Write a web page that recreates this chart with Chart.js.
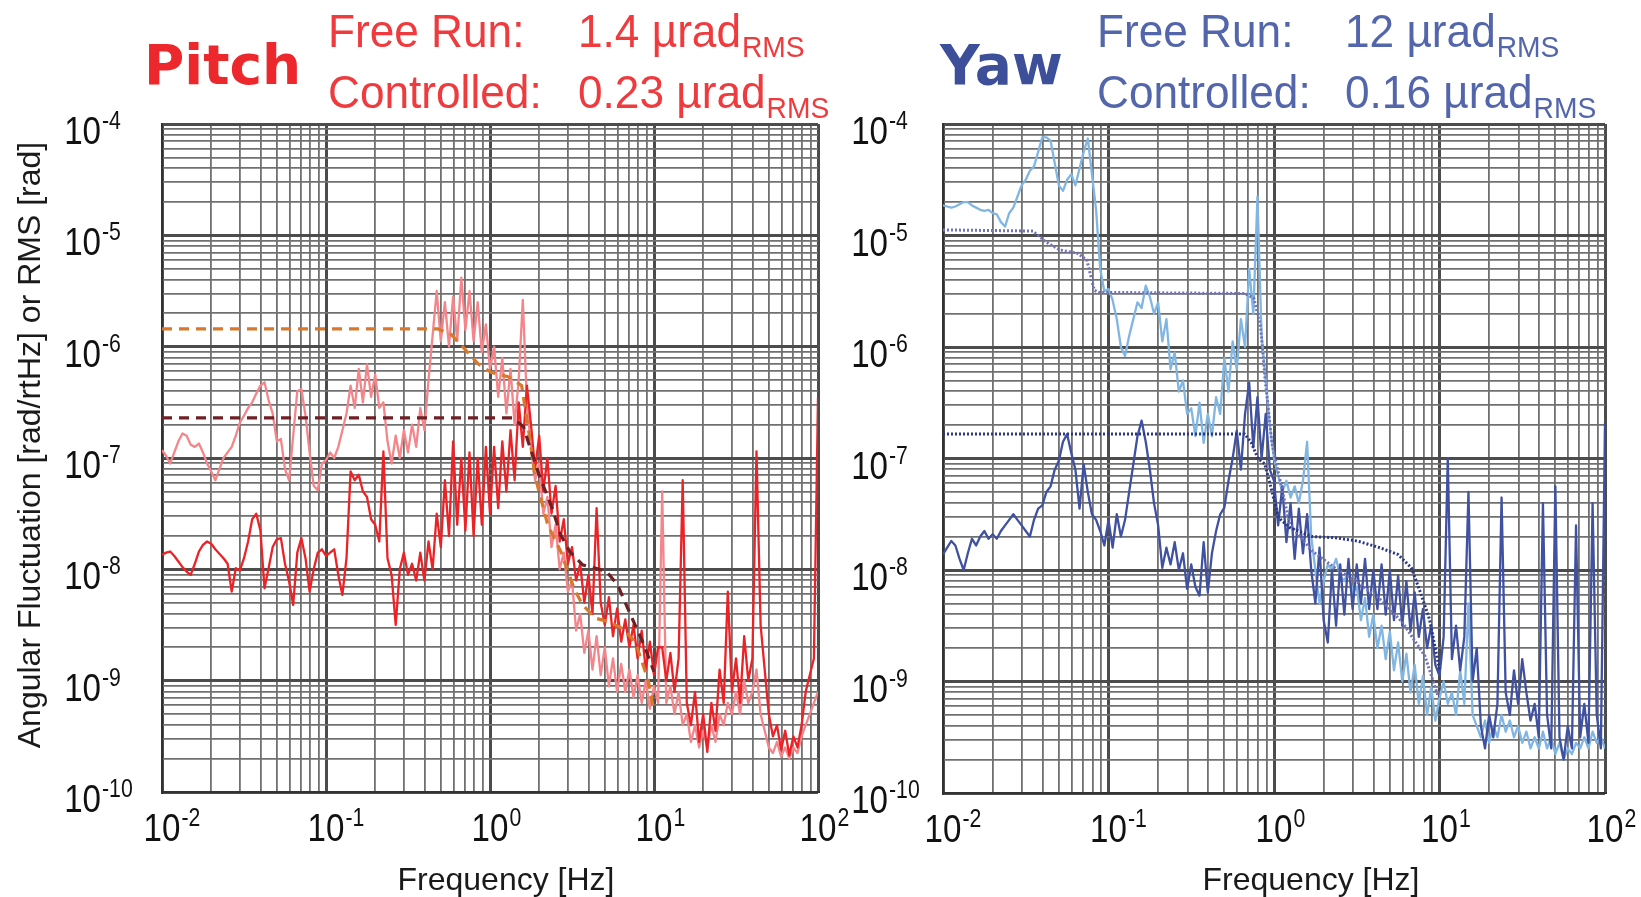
<!DOCTYPE html>
<html>
<head>
<meta charset="utf-8">
<title>Pitch / Yaw angular fluctuation</title>
<script src="https://cdn.jsdelivr.net/npm/chart.js@4.4.1/dist/chart.umd.min.js"></script>
<style>
  html, body { margin: 0; padding: 0; background: #fff; }
  #wrap { position: relative; width: 1641px; height: 897px; overflow: hidden; }
  #pitchBox { position: absolute; left: 0; top: 0; width: 860px; height: 897px; }
  #yawBox { position: absolute; left: 845px; top: 0; width: 796px; height: 897px; }
</style>
</head>
<body>
<div id="wrap">
  <div id="pitchBox"><canvas id="pitchChart"></canvas></div>
  <div id="yawBox"><canvas id="yawChart"></canvas></div>
</div>
<script>
// analyser bins, 40 per decade from 0.01 Hz to 100 Hz
const freqBins = Array.from({length: 161}, (_, i) => 10 ** (-2 + i / 40));

const pitchFreeLog = [
  -6.93,-6.98,-7.05,-6.95,-6.85,-6.78,-6.80,-6.88,-6.90,-6.87,
  -6.95,-7.05,-7.12,-7.20,-7.10,-7.00,-6.95,-6.90,-6.80,-6.68,
  -6.62,-6.55,-6.50,-6.42,-6.35,-6.32,-6.48,-6.60,-6.85,-6.83,
  -7.10,-7.20,-6.80,-6.40,-6.38,-6.62,-6.95,-7.25,-7.29,-7.05,
  -7.02,-6.95,-7.00,-6.90,-6.75,-6.60,-6.35,-6.55,-6.20,-6.50,
  -6.16,-6.45,-6.25,-6.55,-6.50,-6.85,-7.05,-6.80,-7.00,-6.75,
  -6.95,-6.70,-6.90,-6.55,-6.75,-6.30,-5.90,-5.50,-5.95,-5.60,
  -6.00,-5.55,-5.95,-5.38,-5.85,-5.50,-5.95,-5.60,-6.05,-5.80,
  -6.20,-6.00,-6.45,-6.10,-6.60,-6.20,-6.70,-6.30,-5.58,-6.50,
  -6.90,-7.20,-7.05,-7.50,-7.35,-7.80,-7.60,-8.00,-7.85,-8.20,
  -8.10,-8.55,-8.40,-8.75,-8.55,-8.90,-8.60,-8.95,-8.70,-9.05,
  -8.80,-9.10,-8.85,-9.10,-8.90,-9.15,-8.95,-9.20,-9.00,-9.25,
  -9.05,-9.20,-7.30,-9.20,-9.05,-9.30,-9.10,-9.40,-9.30,-9.55,
  -9.40,-9.60,-9.45,-9.60,-9.40,-9.55,-9.30,-9.40,-9.20,-9.30,
  -9.10,-9.30,-9.00,-9.20,-9.10,-8.90,-9.30,-9.45,-9.60,-9.65,
  -9.55,-9.68,-9.60,-9.70,-9.60,-9.65,-9.50,-9.40,-9.30,-9.20,
  -9.10
];
const pitchCtrlLog = [
  -7.87,-7.85,-7.84,-7.88,-7.93,-7.98,-8.02,-8.05,-7.95,-7.84,
  -7.78,-7.75,-7.77,-7.82,-7.86,-7.90,-7.95,-8.20,-7.99,-8.01,
  -7.90,-7.75,-7.55,-7.50,-7.65,-8.17,-7.99,-7.80,-7.73,-7.72,
  -7.95,-8.11,-8.32,-7.85,-7.72,-7.90,-8.20,-8.00,-7.85,-7.82,
  -7.88,-7.85,-7.82,-8.05,-8.23,-7.90,-7.12,-7.20,-7.15,-7.30,
  -7.35,-7.55,-7.60,-7.75,-6.94,-7.90,-8.05,-8.50,-8.00,-7.85,
  -8.05,-7.95,-8.10,-7.85,-8.10,-7.75,-8.00,-7.50,-7.80,-7.20,
  -7.70,-6.85,-7.60,-7.00,-7.65,-6.95,-7.70,-7.00,-7.60,-6.90,
  -7.50,-6.90,-7.45,-6.85,-7.30,-6.75,-7.20,-6.50,-6.90,-6.35,
  -6.70,-7.10,-6.80,-7.30,-7.00,-7.50,-7.25,-7.75,-7.55,-7.95,
  -7.80,-8.10,-7.95,-8.30,-8.05,-8.40,-7.45,-8.30,-8.50,-8.25,
  -8.60,-8.35,-8.65,-8.45,-8.70,-8.50,-8.80,-8.55,-8.90,-8.65,
  -8.95,-8.70,-8.70,-9.00,-8.75,-9.10,-8.80,-7.20,-9.20,-9.40,
  -9.10,-9.55,-9.30,-9.64,-9.20,-9.45,-8.90,-9.20,-8.20,-9.10,
  -8.80,-9.20,-8.60,-9.00,-8.80,-6.94,-8.50,-8.90,-9.30,-9.50,
  -9.40,-9.62,-9.45,-9.67,-9.50,-9.60,-9.40,-9.10,-8.95,-8.80,
  -6.46
];
const pitchFreeRmsFreq = [0.01, 0.48, 0.58, 0.70, 0.84, 1.01, 1.29, 1.56, 1.76, 1.87, 2.25, 2.70, 3.25, 3.67, 4.42, 5.31, 6.39, 7.68, 9.23, 10];
const pitchFreeRmsLog = [-5.84, -5.84, -5.89, -6.02, -6.15, -6.23, -6.27, -6.35, -6.85, -7.15, -7.60, -7.84, -8.17, -8.32, -8.44, -8.47, -8.53, -8.65, -9.00, -9.28];
const pitchCtrlRmsFreq = [0.01, 1.38, 1.6, 1.76, 1.99, 2.39, 2.70, 3.06, 3.67, 4.42, 5.14, 6.0, 7.2, 8.7, 10];
const pitchCtrlRmsLog = [-6.64, -6.64, -6.72, -6.91, -7.15, -7.45, -7.69, -7.84, -7.96, -7.99, -8.02, -8.14, -8.41, -8.68, -8.92];

const yawFreeLog = [
  -4.73,-4.74,-4.75,-4.74,-4.72,-4.70,-4.70,-4.73,-4.75,-4.77,
  -4.78,-4.77,-4.80,-4.81,-4.88,-4.92,-4.80,-4.75,-4.65,-4.55,
  -4.50,-4.42,-4.38,-4.25,-4.12,-4.12,-4.15,-4.35,-4.55,-4.60,
  -4.50,-4.45,-4.55,-4.40,-4.25,-4.13,-4.45,-4.77,-5.30,-5.50,
  -5.48,-5.58,-5.75,-6.00,-6.08,-5.90,-5.75,-5.60,-5.65,-5.45,
  -5.55,-5.70,-5.60,-5.95,-5.75,-6.20,-6.05,-6.40,-6.30,-6.60,
  -6.55,-6.80,-6.50,-6.86,-6.60,-6.80,-6.45,-6.60,-6.10,-6.40,
  -5.95,-6.20,-5.75,-6.00,-5.30,-5.70,-4.65,-5.90,-6.30,-6.70,
  -7.00,-7.15,-7.30,-7.20,-7.35,-7.25,-7.40,-7.20,-6.85,-7.70,
  -8.00,-8.30,-8.10,-7.95,-8.00,-7.90,-8.05,-8.10,-8.00,-8.20,
  -8.15,-8.45,-8.25,-8.60,-8.40,-8.70,-8.50,-8.80,-8.55,-8.90,
  -8.65,-9.00,-8.75,-9.10,-8.85,-9.20,-8.95,-9.30,-9.05,-9.35,
  -9.15,-9.00,-9.20,-9.10,-9.30,-8.90,-9.20,-8.30,-9.30,-9.40,
  -9.50,-9.35,-9.55,-9.40,-9.50,-9.30,-9.45,-9.35,-9.50,-9.40,
  -9.55,-9.45,-9.60,-9.50,-9.60,-9.45,-9.60,-9.50,-9.65,-9.55,
  -9.70,-9.60,-9.65,-9.55,-9.60,-9.50,-9.60,-9.45,-9.55,-9.50,
  -9.60
];
const yawCtrlLog = [
  -7.86,-7.80,-7.74,-7.78,-7.90,-8.00,-7.85,-7.72,-7.78,-7.70,
  -7.65,-7.72,-7.68,-7.72,-7.65,-7.60,-7.55,-7.50,-7.55,-7.60,
  -7.65,-7.70,-7.55,-7.45,-7.42,-7.30,-7.25,-7.10,-7.02,-6.85,
  -6.78,-6.95,-7.10,-7.45,-7.05,-7.30,-7.50,-7.55,-7.65,-7.78,
  -7.55,-7.80,-7.50,-7.70,-7.55,-7.30,-7.05,-6.80,-6.66,-6.85,
  -7.10,-7.40,-7.60,-7.98,-7.80,-7.95,-7.75,-8.00,-7.85,-8.17,
  -7.95,-8.15,-8.23,-7.75,-8.20,-7.85,-7.65,-7.50,-7.44,-7.20,
  -7.00,-6.75,-7.10,-6.60,-6.32,-6.90,-6.45,-7.00,-6.60,-7.10,
  -7.20,-7.60,-7.25,-7.75,-7.40,-7.90,-7.45,-7.85,-7.50,-8.00,
  -8.30,-7.80,-8.45,-8.65,-8.00,-8.50,-7.95,-8.40,-7.90,-8.35,
  -7.95,-8.30,-7.90,-8.35,-8.00,-8.35,-7.95,-8.40,-8.00,-8.45,
  -8.05,-8.50,-8.10,-8.55,-8.20,-8.60,-8.35,-8.70,-8.50,-8.85,
  -8.95,-8.60,-7.00,-8.80,-8.50,-8.90,-8.60,-7.30,-9.00,-8.70,
  -9.40,-9.60,-9.30,-9.50,-9.20,-7.35,-9.10,-9.30,-8.90,-9.20,
  -8.80,-9.10,-9.35,-9.20,-9.50,-7.40,-9.30,-9.60,-7.25,-9.50,
  -9.70,-9.40,-9.60,-7.60,-9.50,-9.20,-9.55,-7.40,-9.30,-9.60,
  -6.68
];
const yawFreeRmsFreq = [0.01, 0.035, 0.042, 0.051, 0.065, 0.074, 0.082, 0.087, 0.665, 0.755, 0.83, 0.88, 0.97, 1.245, 1.70, 2.33, 3.19, 4.36, 5.97, 8.16, 9.84];
const yawFreeRmsLog = [-4.95, -4.96, -5.06, -5.13, -5.16, -5.22, -5.49, -5.51, -5.52, -5.56, -5.82, -6.26, -6.86, -7.59, -7.83, -7.98, -8.11, -8.26, -8.47, -8.77, -9.14];
const yawCtrlRmsFreq = [0.01, 0.665, 0.73, 0.80, 0.88, 0.97, 1.065, 1.245, 1.70, 2.33, 3.19, 4.36, 5.6, 6.76, 7.66, 8.69, 10];
const yawCtrlRmsLog = [-6.78, -6.78, -6.86, -7.00, -7.05, -7.29, -7.53, -7.62, -7.70, -7.71, -7.74, -7.80, -7.86, -7.98, -8.20, -8.44, -8.89];

const xDecades = [-2, -1, 0, 1, 2];
const yDecades = [-10, -9, -8, -7, -6, -5, -4];

const FONT = '"Liberation Sans", Arial, sans-serif';

function pts(freqs, logs) {
  return logs.map((v, i) => ({x: freqs[i], y: 10 ** v}));
}

// 1..9 x 10^e grid, like log graph paper
function logTicks(lo, hi) {
  const out = [];
  for (let e = lo; e < hi; e++) {
    for (let m = 1; m < 10; m++) out.push({value: m * 10 ** e});
  }
  out.push({value: 10 ** hi});
  return out;
}
function isDecade(v) {
  const l = Math.log10(v);
  return Math.abs(l - Math.round(l)) < 1e-6;
}

function squeezed(ctx, text, x, y, size, sx) {
  ctx.save();
  ctx.font = size + 'px ' + FONT;
  const w = ctx.measureText(text).width * sx;
  ctx.translate(x, y);
  ctx.scale(sx, 1);
  ctx.textAlign = 'left';
  ctx.fillText(text, 0, 0);
  ctx.restore();
  return w;
}
function power10(ctx, exp, x, y, align) {
  ctx.font = '39px ' + FONT;
  const w = ctx.measureText('10').width * 0.85;
  const left = align === 'center' ? x - w / 2 : x - w;
  squeezed(ctx, '10', left, y, 39, 0.85);
  squeezed(ctx, String(exp), left + w + 1, y - 15, 25, 0.85);
}

const panelText = {
  id: 'panelText',
  afterDraw(chart, args, o) {
    const {ctx, chartArea: a, scales: {x, y}} = chart;
    ctx.save();
    ctx.fillStyle = '#111';
    ctx.textBaseline = 'alphabetic';
    xDecades.forEach(e => power10(ctx, e, x.getPixelForValue(10 ** e), a.bottom + 49, 'center'));
    yDecades.forEach(e => power10(ctx, e, a.left - o.yLabelGap, y.getPixelForValue(10 ** e) + 20, 'right'));

    ctx.font = '32px ' + FONT;
    ctx.textAlign = 'center';
    ctx.fillStyle = '#1a1a1a';
    ctx.fillText('Frequency [Hz]', o.xTitleX, 890);
    if (o.yTitle) {
      ctx.save();
      ctx.translate(31, 445);
      ctx.rotate(-Math.PI / 2);
      ctx.textBaseline = 'middle';
      ctx.fillText(o.yTitle, 0, 0);
      ctx.restore();
    }

    ctx.textAlign = 'left';
    ctx.fillStyle = o.nameColor;
    ctx.font = 'bold 55px "DejaVu Sans", Verdana, sans-serif';
    ctx.fillText(o.name, o.nameX, 84);

    ctx.fillStyle = o.textColor;
    o.rows.forEach(([label, val], k) => {
      const base = 47 + k * 61;
      squeezed(ctx, label, o.labelX, base, 47, 0.94);
      const txt = val + ' \u00b5rad';
      const w = squeezed(ctx, txt, o.valueX, base, 47, 0.94);
      squeezed(ctx, 'RMS', o.valueX + w + 1, base + 10, 30, 0.94);
    });
    ctx.restore();
  }
};
Chart.register(panelText);

const grid = {
  drawTicks: false,
  color: c => isDecade(c.tick.value) ? '#4c4c4c' : '#707070',
  lineWidth: c => isDecade(c.tick.value) ? 3 : 1.8
};

function makeOptions(leftW, rightPad, bottomH, text) {
  return {
    responsive: true,
    maintainAspectRatio: false,
    animation: false,
    layout: {padding: {left: 0, top: 124, right: rightPad, bottom: 0}},
    elements: {point: {radius: 0}, line: {tension: 0, borderJoinStyle: 'round'}},
    plugins: {legend: {display: false}, tooltip: {enabled: false}, panelText: text},
    scales: {
      x: {
        type: 'logarithmic', min: 0.01, max: 100,
        afterBuildTicks: s => { s.ticks = logTicks(-2, 2); },
        afterFit: s => { s.height = bottomH; },
        ticks: {display: false},
        grid: grid,
        border: {display: true, color: '#333', width: 2}
      },
      y: {
        type: 'logarithmic', min: 1e-10, max: 1e-4,
        afterBuildTicks: s => { s.ticks = logTicks(-10, -4); },
        afterFit: s => { s.width = leftW; },
        ticks: {display: false},
        grid: grid,
        border: {display: true, color: '#333', width: 2}
      }
    }
  };
}

new Chart('pitchChart', {
  type: 'line',
  data: {
    datasets: [
      {label: 'Controlled RMS', data: pts(pitchCtrlRmsFreq, pitchCtrlRmsLog), borderColor: '#6e2024', borderWidth: 3.2, borderDash: [10, 7], order: 0},
      {label: 'Free Run RMS', data: pts(pitchFreeRmsFreq, pitchFreeRmsLog), borderColor: '#d8782c', borderWidth: 3.2, borderDash: [10, 7], order: 1},
      {label: 'Controlled', data: pts(freqBins, pitchCtrlLog), borderColor: '#ec2227', borderWidth: 2.3, order: 2},
      {label: 'Free Run', data: pts(freqBins, pitchFreeLog), borderColor: '#f4858a', borderWidth: 2.3, order: 3}
    ]
  },
  options: makeOptions(162, 42, 105, {
    name: 'Pitch', nameX: 144, nameColor: '#ec282d',
    textColor: '#ef3a3e', labelX: 328, valueX: 578,
    rows: [['Free Run:', '1.4'], ['Controlled:', '0.23']],
    xTitleX: 506, yTitle: 'Angular Fluctuation [rad/rtHz] or RMS [rad]', yLabelGap: 61
  })
});

new Chart('yawChart', {
  type: 'line',
  data: {
    datasets: [
      {label: 'Controlled RMS', data: pts(yawCtrlRmsFreq, yawCtrlRmsLog), borderColor: '#2b3782', borderWidth: 3, borderDash: [2, 2], order: 0},
      {label: 'Free Run RMS', data: pts(yawFreeRmsFreq, yawFreeRmsLog), borderColor: '#7272bb', borderWidth: 3, borderDash: [2, 2], order: 1},
      {label: 'Controlled', data: pts(freqBins, yawCtrlLog), borderColor: '#3f51a0', borderWidth: 2.3, order: 2},
      {label: 'Free Run', data: pts(freqBins, yawFreeLog), borderColor: '#82b6e2', borderWidth: 2.3, order: 3}
    ]
  },
  options: makeOptions(98, 36, 104, {
    name: 'Yaw', nameX: 95, nameColor: '#3d4f99',
    textColor: '#5466ab', labelX: 252, valueX: 500,
    rows: [['Free Run:', '12'], ['Controlled:', '0.16']],
    xTitleX: 466, yTitle: null, yLabelGap: 55
  })
});
</script>
</body>
</html>
